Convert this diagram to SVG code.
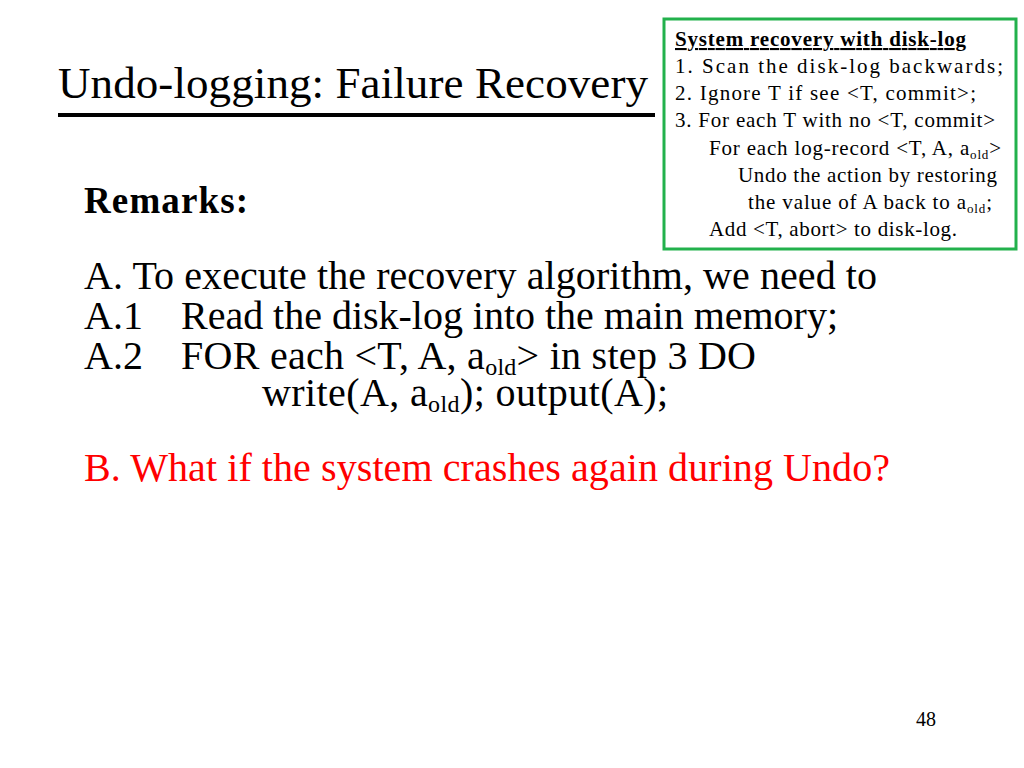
<svg xmlns="http://www.w3.org/2000/svg" width="1024" height="768" viewBox="0 0 1024 768">
<style>
text{font-family:"Liberation Serif","Times New Roman",serif;fill:#000}
.b{font-size:21px}
.m{font-size:40px}
</style>
<rect width="1024" height="768" fill="#fff"/>
<text x="58" y="98" font-size="45" textLength="590">Undo-logging: Failure Recovery</text>
<line x1="58" y1="115" x2="655" y2="115" stroke="#000" stroke-width="4"/>
<g id="box">
<rect x="664" y="19" width="352" height="230" fill="#fff" stroke="#22b14c" stroke-width="3"/>
<text class="b" x="675" y="46" font-weight="bold" text-decoration="underline" textLength="291">System recovery with disk-log</text>
<text class="b" x="675" y="73" textLength="328">1. Scan the disk-log backwards;</text>
<text class="b" x="675" y="100" textLength="301">2. Ignore T if see &lt;T, commit&gt;;</text>
<text class="b" x="675" y="127" textLength="320">3. For each T with no &lt;T, commit&gt;</text>
<text class="b" x="709" y="155" textLength="292">For each log-record &lt;T, A, a<tspan font-size="13" dy="4">old</tspan><tspan dy="-4">&gt;</tspan></text>
<text class="b" x="738" y="182" textLength="259">Undo the action by restoring</text>
<text class="b" x="748" y="209" textLength="244">the value of A back to a<tspan font-size="13" dy="4">old</tspan><tspan dy="-4">;</tspan></text>
<text class="b" x="709" y="236" textLength="248">Add &lt;T, abort&gt; to disk-log.</text>
</g>
<text x="84" y="213" font-size="37" font-weight="bold" textLength="164">Remarks:</text>
<text class="m" x="84" y="289" textLength="793">A.  To execute the recovery algorithm, we need to</text>
<text class="m" x="84" y="329">A.1</text>
<text class="m" x="181" y="329" textLength="657">Read the disk-log into the main memory;</text>
<text class="m" x="84" y="369">A.2</text>
<text class="m" x="181" y="369" textLength="575">FOR each &lt;T, A, a<tspan font-size="24" dy="6">old</tspan><tspan dy="-6">&gt;  in step 3 DO</tspan></text>
<text class="m" x="262" y="406" textLength="406">write(A, a<tspan font-size="24" dy="6">old</tspan><tspan dy="-6">);  output(A);</tspan></text>
<text class="m" x="84" y="481" style="fill:#ff0000" textLength="806">B.  What if the system crashes again during Undo?</text>
<text x="916" y="726" font-size="20">48</text>
</svg>
